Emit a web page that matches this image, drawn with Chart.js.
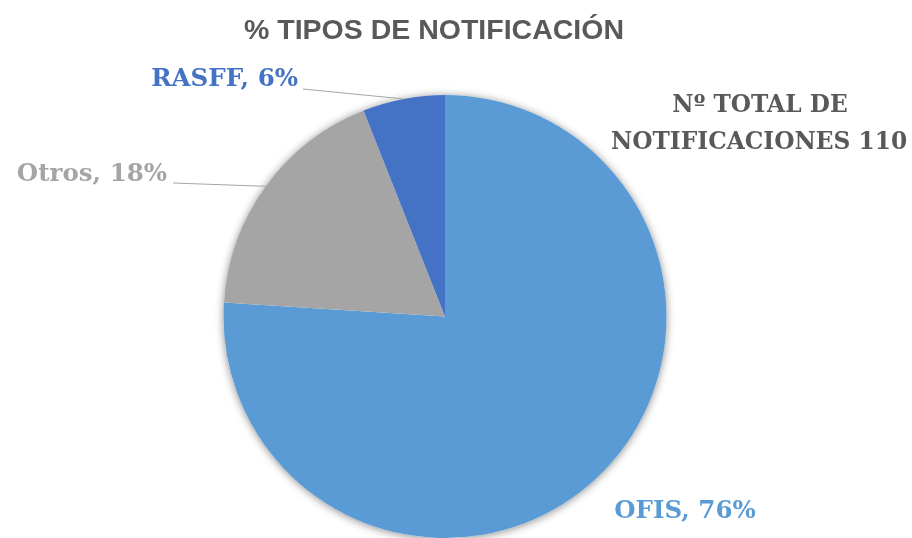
<!DOCTYPE html>
<html>
<head>
<meta charset="utf-8">
<script src="https://cdn.jsdelivr.net/npm/chart.js@4.4.1/dist/chart.umd.min.js"></script>
<style>
html,body{margin:0;padding:0;background:#fff;overflow:hidden;}
#c{display:block;}
</style>
</head>
<body>
<canvas id="c" width="912" height="538" style="width:912px;height:538px"></canvas>
<script>
const chartTitle = "% TIPOS DE NOTIFICACIÓN";
const categories = ["OFIS", "Otros", "RASFF"];
const percentages = [76, 18, 6];
const sliceColors = ["#5B9BD5", "#A5A5A5", "#4472C4"];
const totalLines = ["Nº TOTAL DE", "NOTIFICACIONES 110"];

const labelFont = "bold 24.5px 'DejaVu Serif', serif";
const totalFont = "bold 23.3px 'DejaVu Serif', serif";

const decor = {
  id: 'decor',
  beforeDatasetsDraw(chart) {
    const ctx = chart.ctx;
    const arc = chart.getDatasetMeta(0).data[0];
    ctx.save();
    ctx.shadowColor = 'rgba(0,0,0,0.45)';
    ctx.shadowBlur = 9;
    ctx.shadowOffsetX = 0;
    ctx.shadowOffsetY = 1;
    ctx.fillStyle = '#ffffff';
    ctx.beginPath();
    ctx.arc(arc.x, arc.y, arc.outerRadius, 0, Math.PI * 2);
    ctx.fill();
    ctx.restore();
  },
  afterDatasetsDraw(chart) {
    const ctx = chart.ctx;
    const meta = chart.getDatasetMeta(0);
    ctx.save();
    ctx.font = "bold 28.5px 'Liberation Sans', Arial, sans-serif";
    ctx.fillStyle = '#595959';
    ctx.textAlign = 'center';
    ctx.textBaseline = 'middle';
    ctx.fillText(chartTitle, 434, 31);

    ctx.font = totalFont;
    ctx.fillStyle = '#595959';
    ctx.fillText(totalLines[0], 760, 106);
    ctx.fillText(totalLines[1], 759, 143);

    const labelPos = [
      {x: 685, y: 512, align: 'center', lead: null},
      {x: 167, y: 175, align: 'right', lead: {x: 173, y: 183}},
      {x: 298, y: 80, align: 'right', lead: {x: 303, y: 89}}
    ];
    meta.data.forEach((el, i) => {
      const p = labelPos[i];
      if (p.lead) {
        const mid = (el.startAngle + el.endAngle) / 2;
        const ex = el.x + Math.cos(mid) * el.outerRadius;
        const ey = el.y + Math.sin(mid) * el.outerRadius;
        ctx.strokeStyle = '#A6A6A6';
        ctx.lineWidth = 1;
        ctx.beginPath();
        ctx.moveTo(p.lead.x, p.lead.y);
        ctx.lineTo(ex, ey);
        ctx.stroke();
      }
      ctx.font = labelFont;
      ctx.fillStyle = sliceColors[i];
      ctx.textAlign = p.align;
      ctx.textBaseline = 'middle';
      ctx.fillText(categories[i] + ", " + percentages[i] + "%", p.x, p.y);
    });
    ctx.restore();
  }
};

new Chart(document.getElementById('c'), {
  type: 'pie',
  data: {
    labels: categories,
    datasets: [{
      data: percentages,
      backgroundColor: sliceColors,
      borderWidth: 0,
      hoverOffset: 0
    }]
  },
  options: {
    responsive: false,
    animation: false,
    layout: { padding: { top: 95, bottom: 0, left: 0, right: 22 } },
    plugins: {
      legend: { display: false },
      title: { display: false },
      tooltip: { enabled: false }
    }
  },
  plugins: [decor]
});
</script>
</body>
</html>
